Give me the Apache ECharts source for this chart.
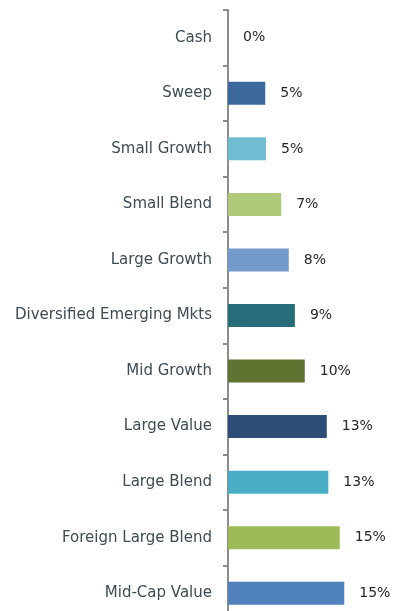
<!DOCTYPE html>
<html>
<head>
<meta charset="utf-8">
<script src="https://cdn.jsdelivr.net/npm/echarts@6/dist/echarts.min.js"></script>
<style>
  html, body { margin: 0; padding: 0; background: #ffffff; overflow: hidden; }
  #chart1 { width: 404px; height: 621px; }
</style>
</head>
<body>
<div id="chart1"></div>
<script>
// 类别与数值（从上到下）
var categories = ['Cash', 'Sweep', 'Small Growth', 'Small Blend', 'Large Growth',
  'Diversified Emerging Mkts', 'Mid Growth', 'Large Value', 'Large Blend',
  'Foreign Large Blend', 'Mid-Cap Value'];
var weights = [0, 4.9, 5.0, 7.0, 8.0, 8.8, 10.1, 13.0, 13.2, 14.7, 15.3];
var barColors = ['#4f81bd', '#3b699c', '#70bdd1', '#b0ca7b', '#729bcc', '#266c79',
  '#5f722f', '#2c4e76', '#4aadc6', '#9cbb58', '#4f81bd'];

document.addEventListener('DOMContentLoaded', function () {
  var myChart = echarts.init(document.getElementById('chart1'));

  var option = {
    animation: false,
    grid: { left: 228, right: 24, top: 10, bottom: 0, containLabel: false },
    xAxis: {
      type: 'value',
      min: 0,
      max: 20,
      show: false
    },
    yAxis: {
      type: 'category',
      inverse: true,
      data: categories,
      axisLine: { lineStyle: { color: '#8c8c8c', width: 2 } },
      axisTick: { show: true, inside: false, length: 5, lineStyle: { color: '#8c8c8c', width: 2 } },
      axisLabel: {
        margin: 16,
        color: '#3d4b55',
        fontSize: 15,
        fontFamily: 'DejaVu Sans'
      }
    },
    series: [{
      type: 'bar',
      barWidth: 23,
      data: weights.map(function (v, i) {
        return { value: v, itemStyle: { color: barColors[i] } };
      }),
      label: {
        show: true,
        position: 'right',
        distance: 15,
        color: '#262626',
        fontSize: 14,
        fontFamily: 'DejaVu Sans',
        formatter: function (p) { return Math.round(p.value) + '%'; }
      }
    }]
  };

  myChart.setOption(option);
});
</script>
</body>
</html>
